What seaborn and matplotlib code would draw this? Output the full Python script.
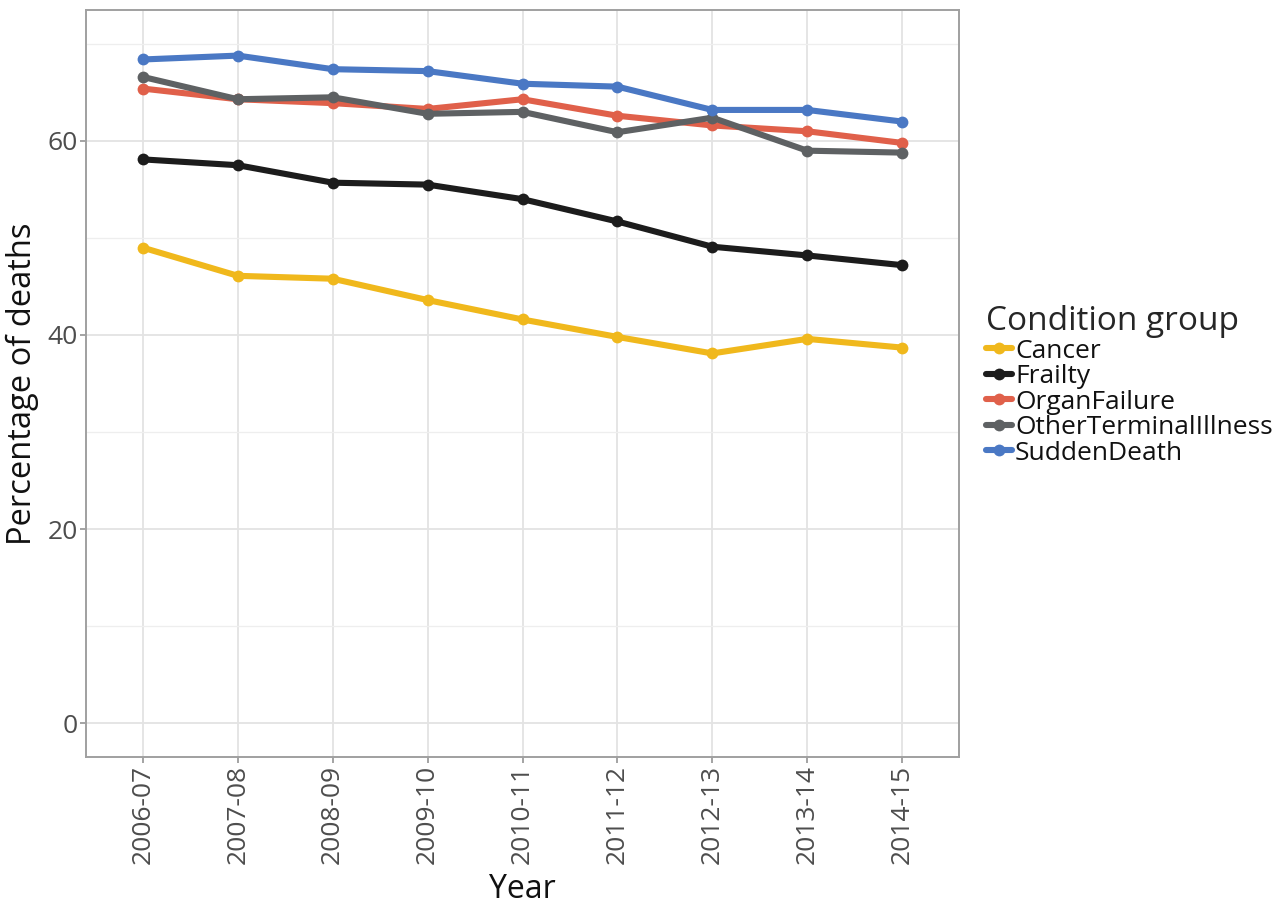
import matplotlib
matplotlib.use("Agg")
import matplotlib.pyplot as plt
import seaborn as sns
import pandas as pd
from matplotlib.ticker import MultipleLocator

years = ["2006-07", "2007-08", "2008-09", "2009-10", "2010-11",
         "2011-12", "2012-13", "2013-14", "2014-15"]
groups = ["Cancer", "Frailty", "OrganFailure", "OtherTerminalIllness", "SuddenDeath"]

cancer = [49.0, 46.1, 45.8, 43.6, 41.6, 39.8, 38.1, 39.6, 38.7]
frailty = [58.1, 57.5, 55.7, 55.5, 54.0, 51.7, 49.1, 48.2, 47.2]
organ_failure = [65.4, 64.3, 63.9, 63.3, 64.3, 62.6, 61.6, 61.0, 59.8]
other_terminal = [66.6, 64.3, 64.5, 62.8, 63.0, 60.9, 62.4, 59.0, 58.8]
sudden_death = [68.4, 68.8, 67.4, 67.2, 65.9, 65.6, 63.2, 63.2, 62.0]

colors = ["#F0B81C", "#1C1C1C", "#E0604A", "#5E6163", "#4A78C4"]

series = [cancer, frailty, organ_failure, other_terminal, sudden_death]
rows = []
for g, vals in zip(groups, series):
    for y, v in zip(years, vals):
        rows.append({"Year": y, "Percentage of deaths": v, "Condition group": g})
df = pd.DataFrame(rows)

sns.set_theme(style="white")
plt.rcParams["font.family"] = ["Open Sans", "DejaVu Sans"]

fig = plt.figure(figsize=(12.85, 9.08), dpi=100)
ax = fig.add_axes([86 / 1285, 1 - 757 / 908, (959 - 86) / 1285, (757 - 10) / 908])

sns.lineplot(data=df, x="Year", y="Percentage of deaths", hue="Condition group",
             hue_order=groups, palette=colors, marker="o", markersize=8.5,
             markeredgewidth=0, linewidth=4.4, sort=False, ax=ax, legend=True)

ax.set_xlim(-0.6, 8.6)
ax.set_ylim(-3.5, 73.5)
ax.yaxis.set_major_locator(MultipleLocator(20))
ax.yaxis.set_minor_locator(MultipleLocator(10))
ax.grid(True, which="major", color="#e3e3e3", linewidth=1.3, zorder=0)
ax.grid(True, which="minor", axis="y", color="#eeeeee", linewidth=0.9, zorder=0)
ax.set_axisbelow(True)
for s in ax.spines.values():
    s.set_color("#a0a0a0")
    s.set_linewidth(1.4)

ax.tick_params(axis="both", which="major", direction="out", length=4, width=1.1,
               color="#8a8a8a", labelsize=19, labelcolor="#4d4d4d", pad=2,
               bottom=True, left=True)
ax.tick_params(axis="both", which="minor", length=0)
plt.setp(ax.get_xticklabels(), rotation=90)

ax.set_xlabel("Year", fontsize=23, color="#111111", labelpad=6)
ax.set_ylabel("Percentage of deaths", fontsize=23.5, color="#111111", labelpad=6)

handles, labels = ax.get_legend_handles_labels()
ax.get_legend().remove()
leg = fig.legend(handles, labels, title="Condition group", loc="upper left",
                 bbox_to_anchor=(986 / 1285, 1 - 305 / 908), frameon=False,
                 fontsize=19, title_fontsize=24, handlelength=1.0,
                 handletextpad=0.1, labelspacing=0.02, borderpad=0,
                 borderaxespad=0)
leg._legend_box.align = "left"
for t in leg.get_texts():
    t.set_color("#111111")

fig.savefig("out.png", dpi=100)
